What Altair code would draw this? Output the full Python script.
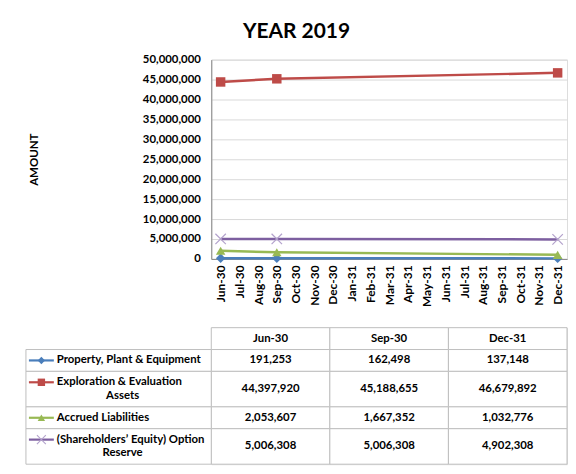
import altair as alt
import pandas as pd

# ---------------- data ----------------
months = ["Jun-30", "Jul-30", "Aug-30", "Sep-30", "Oct-30", "Nov-30", "Dec-30",
          "Jan-31", "Feb-31", "Mar-31", "Apr-31", "May-31", "Jun-31", "Jul-31",
          "Aug-31", "Sep-31", "Oct-31", "Nov-31", "Dec-31"]
periods = ["Jun-30", "Sep-30", "Dec-31"]
series = ["Property, Plant & Equipment",
          "Exploration & Evaluation Assets",
          "Accrued Liabilities",
          "(Shareholders’ Equity) Option Reserve"]
label_lines = [["Property, Plant & Equipment"],
               ["Exploration & Evaluation", "Assets"],
               ["Accrued Liabilities"],
               ["(Shareholders’ Equity) Option", "Reserve"]]
ppe = [191253, 162498, 137148]
ee = [44397920, 45188655, 46679892]
accrued = [2053607, 1667352, 1032776]
reserve = [5006308, 5006308, 4902308]
y_ticks = [0, 5000000, 10000000, 15000000, 20000000, 25000000,
           30000000, 35000000, 40000000, 45000000, 50000000]

colors = ["#4A7EBB", "#BE4B48", "#98B954", "#7D5FA0"]
x_path = "M-1,-1L1,1M1,-1L-1,1"
shapes = ["diamond", "square", "triangle-up", x_path]

FONT = "Lato"
TFS = 11.4
values = [ppe, ee, accrued, reserve]

long = pd.DataFrame([
    {"series": s, "period": p, "value": v[i]}
    for s, v in zip(series, values) for i, p in enumerate(periods)
])

color_scale = alt.Scale(domain=series, range=colors)
shape_scale = alt.Scale(domain=series, range=shapes)

# ---------------- line chart ----------------
xenc = alt.X("period:O",
             scale=alt.Scale(type="point", domain=months, padding=0.5),
             axis=alt.Axis(title=None, labelAngle=270, labelFont=FONT,
                           labelFontSize=12, labelFontWeight="bold",
                           labelColor="#000000", labelPadding=6, ticks=False,
                           domainColor="#868686", grid=False, labelOverlap=False))
yenc = alt.Y("value:Q",
             scale=alt.Scale(domain=[0, 50000000], nice=False),
             axis=alt.Axis(title="AMOUNT", values=y_ticks, format=",d",
                           labelFont=FONT, labelFontSize=11.4, labelFontWeight="bold",
                           labelColor="#000000", labelPadding=11, ticks=False,
                           domainColor="#868686", gridColor="#D9D9D9",
                           titleFont=FONT, titleFontSize=11.5, titleFontWeight="bold",
                           titleColor="#000000", titleAngle=270, titleX=-177, titleY=100,
                           titleAlign="center", titleBaseline="middle"))

base = alt.Chart(long)
lines = base.mark_line(strokeWidth=2.5).encode(
    x=xenc, y=yenc,
    color=alt.Color("series:N", scale=color_scale, legend=None),
    detail="series:N",
)
pts = base.transform_filter(alt.datum.series != series[3]).mark_point(
    filled=True, opacity=1, size=90).encode(
    x=xenc, y=yenc,
    color=alt.Color("series:N", scale=color_scale, legend=None),
    shape=alt.Shape("series:N", scale=shape_scale, legend=None),
)
xpts = base.transform_filter(alt.datum.series == series[3]).mark_point(
    filled=False, opacity=1, size=110, strokeWidth=1.2, color="#B3A2CC").encode(
    x=xenc, y=yenc,
    shape=alt.Shape("series:N", scale=shape_scale, legend=None),
)
line_chart = alt.layer(lines, pts, xpts).properties(width=357, height=200)

# ---------------- data table ----------------
PAD = 0.6
LABEL_W = 186
row_lines = [1] + [len(l) for l in label_lines]
tops = []
t = 0.0
for n in row_lines:
    tops.append(t)
    t += n + PAD
total = t

yscale = alt.Scale(domain=[0, total], reverse=True, nice=False, zero=False)

vrows = []
for c, p in enumerate(periods):
    vrows.append({"col": p, "text": p, "top": tops[0], "bottom": tops[0] + row_lines[0] + PAD})
    for r, v in enumerate(values):
        top = tops[r + 1]
        vrows.append({"col": p, "text": f"{v[c]:,}", "top": top,
                      "bottom": top + row_lines[r + 1] + PAD})
vdf = pd.DataFrame(vrows)
vdf["mid"] = (vdf["top"] + vdf["bottom"]) / 2

vx = alt.X("col:N", scale=alt.Scale(domain=periods, paddingInner=0, paddingOuter=0), axis=None)
vcells = alt.Chart(vdf).mark_rect(fill="white", stroke="#BFBFBF", strokeWidth=1).encode(
    x=vx, y=alt.Y("top:Q", scale=yscale, axis=None), y2="bottom:Q")
vtext = alt.Chart(vdf).mark_text(font=FONT, fontSize=TFS, fontWeight="bold",
                                 color="#000000", baseline="middle").encode(
    x=vx, y=alt.Y("mid:Q", scale=yscale, axis=None), text="text:N")

lrows = []
for r, s in enumerate(series):
    top = tops[r + 1]
    for i, txt in enumerate(label_lines[r]):
        lrows.append({"series": s, "line": i, "text": txt, "top": top,
                      "bottom": top + row_lines[r + 1] + PAD,
                      "ly": top + PAD / 2 + i + 0.5})
ldf = pd.DataFrame(lrows)
first = ldf[ldf["line"] == 0]
second = ldf[ldf["line"] == 1]

lcells = alt.Chart(first).mark_rect(fill="white", stroke="#BFBFBF", strokeWidth=1).encode(
    x=alt.value(-LABEL_W), x2=alt.value(0),
    y=alt.Y("top:Q", scale=yscale, axis=None), y2="bottom:Q")
swatch = alt.Chart(first).mark_rule(strokeWidth=2.2).encode(
    x=alt.value(-LABEL_W + 3), x2=alt.value(-LABEL_W + 28),
    y=alt.Y("ly:Q", scale=yscale, axis=None),
    color=alt.Color("series:N", scale=color_scale, legend=None))
spts = alt.Chart(first).transform_filter(alt.datum.series != series[3]).mark_point(
    filled=True, opacity=1, size=55).encode(
    x=alt.value(-LABEL_W + 15.5), y=alt.Y("ly:Q", scale=yscale, axis=None),
    color=alt.Color("series:N", scale=color_scale, legend=None),
    shape=alt.Shape("series:N", scale=shape_scale, legend=None))
sxpts = alt.Chart(first).transform_filter(alt.datum.series == series[3]).mark_point(
    filled=False, opacity=1, size=80, strokeWidth=1.1, color="#B3A2CC").encode(
    x=alt.value(-LABEL_W + 15.5), y=alt.Y("ly:Q", scale=yscale, axis=None),
    shape=alt.Shape("series:N", scale=shape_scale, legend=None))
ltext1 = alt.Chart(first).mark_text(font=FONT, fontSize=TFS, fontWeight="bold",
                                    color="#000000", align="left", baseline="middle").encode(
    x=alt.value(-LABEL_W + 31), y=alt.Y("ly:Q", scale=yscale, axis=None), text="text:N")
ltext2 = alt.Chart(second).mark_text(font=FONT, fontSize=TFS, fontWeight="bold",
                                     color="#000000", align="center", baseline="middle").encode(
    x=alt.value(-LABEL_W + 97), y=alt.Y("ly:Q", scale=yscale, axis=None), text="text:N")

table = alt.layer(vcells, vtext, lcells, swatch, spts, sxpts, ltext1, ltext2).properties(
    width=357, height=137)

chart = alt.vconcat(line_chart, table, spacing=19).properties(
    title=alt.TitleParams("YEAR 2019", font=FONT, fontSize=21, fontWeight="bold",
                          color="#000000", anchor="middle", offset=11),
    padding={"left": 17, "top": 12, "right": 0, "bottom": 0},
).configure_view(stroke=None).configure(background="white")

chart.save("out.html", embed_options={"renderer": "svg", "actions": False})
